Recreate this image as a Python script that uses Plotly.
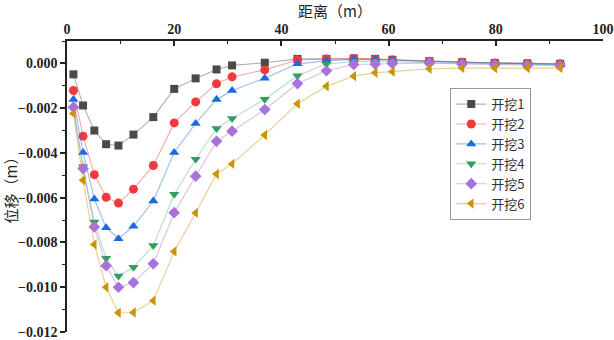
import plotly.graph_objects as go

distance = [1.2, 3.0, 5.1, 7.3, 9.6, 12.4, 16.1, 20.0, 24.0, 27.9, 30.8, 36.9, 43.0,
            48.4, 53.5, 57.5, 60.7, 67.6, 73.7, 79.8, 85.9, 92.0]

dig1 = [-0.00049, -0.00188, -0.00300, -0.00361, -0.00367, -0.00318, -0.00240, -0.00114,
        -0.00067, -0.00027, -0.00009, 0.00003, 0.00020,
        0.00020, 0.00022, 0.00020, 0.00016, 0.00010, 0.00005, 0.00002, 0.00000, -0.00002]
dig2 = [-0.00121, -0.00325, -0.00497, -0.00598, -0.00624, -0.00562, -0.00456, -0.00266,
        -0.00172, -0.00091, -0.00060, -0.00029, 0.00015,
        0.00020, 0.00022, 0.00019, 0.00015, 0.00010, 0.00005, 0.00002, 0.00000, -0.00002]
dig3 = [-0.00161, -0.00398, -0.00606, -0.00734, -0.00783, -0.00728, -0.00615, -0.00398,
        -0.00268, -0.00161, -0.00121, -0.00066, -0.00002,
        0.00012, 0.00018, 0.00018, 0.00015, 0.00008, 0.00004, 0.00000, -0.00003, -0.00005]
dig4 = [-0.00200, -0.00462, -0.00709, -0.00870, -0.00950, -0.00911, -0.00814, -0.00585,
        -0.00428, -0.00291, -0.00246, -0.00160, -0.00055,
        -0.00003, 0.00008, 0.00009, 0.00007, 0.00003, 0.00000, -0.00003, -0.00005, -0.00007]
dig5 = [-0.00196, -0.00470, -0.00731, -0.00904, -0.01000, -0.00979, -0.00895, -0.00667,
        -0.00504, -0.00348, -0.00303, -0.00206, -0.00090,
        -0.00033, -0.00005, -0.00003, 0.00000, 0.00002, -0.00003, -0.00006, -0.00008, -0.00010]
dig6 = [-0.00224, -0.00522, -0.00809, -0.01000, -0.01114, -0.01113, -0.01060, -0.00840,
        -0.00668, -0.00494, -0.00449, -0.00320, -0.00180,
        -0.00102, -0.00057, -0.00042, -0.00037, -0.00024, -0.00021, -0.00021, -0.00021, -0.00021]

names = ["开挖1", "开挖2", "开挖3", "开挖4", "开挖5", "开挖6"]
series = [dig1, dig2, dig3, dig4, dig5, dig6]

marker_colors = ["#4a4a4a", "#f03a3d", "#1a6be0", "#2f9f60", "#a772dc", "#cc9208"]
line_colors = ["rgba(80,80,80,0.45)", "rgba(240,58,61,0.45)", "rgba(26,107,224,0.45)",
               "rgba(47,159,96,0.35)", "rgba(167,114,220,0.45)", "rgba(204,146,8,0.45)"]
symbols = ["square", "circle", "triangle-up", "triangle-down", "diamond", "triangle-left"]

fig = go.Figure()
for name, ys, mc, lc, sym in zip(names, series, marker_colors, line_colors, symbols):
    fig.add_trace(go.Scatter(
        x=distance, y=ys, name=name, mode="lines+markers",
        line=dict(color=lc, width=1.1),
        marker=dict(symbol=sym, color=mc, size=9 if sym != "square" else 8,
                    line=dict(width=0)),
    ))

tickfont = dict(family="Liberation Serif", size=14, color="#222", weight="bold")

fig.update_layout(
    width=614, height=340,
    margin=dict(l=67, r=11, t=41, b=8),
    paper_bgcolor="white", plot_bgcolor="white",
    font=dict(family="Noto Sans CJK SC", color="#222"),
    legend=dict(
        x=0.715, y=0.838, xanchor="left", yanchor="top",
        bordercolor="#999", borderwidth=1, bgcolor="white",
        font=dict(family="Noto Sans CJK SC", size=13, color="#333"),
        tracegroupgap=0, itemwidth=30,
    ),
    xaxis=dict(
        side="top", range=[0, 100], dtick=20, tick0=0, automargin=False,
        showline=True, linecolor="#222", linewidth=1.5,
        ticks="inside", ticklen=5, tickwidth=1.5, tickcolor="#222",
        minor=dict(dtick=10, ticks="inside", ticklen=3, tickwidth=1, tickcolor="#222"),
        showgrid=False, zeroline=False, tickfont=tickfont,
        title=dict(text="距离（m）", font=dict(family="Noto Sans CJK SC", size=15, color="#222"),
                   standoff=10),
    ),
    yaxis=dict(
        range=[-0.012, 0.001], dtick=0.002, tick0=0, tickformat=".3f", automargin=False,
        showline=True, linecolor="#222", linewidth=1.5,
        ticks="outside", ticklen=5, tickwidth=1.5, tickcolor="#222",
        minor=dict(dtick=0.001, ticks="outside", ticklen=3, tickwidth=1, tickcolor="#222"),
        showgrid=False, zeroline=False, tickfont=tickfont,
        title=dict(text="位移（m）", font=dict(family="Noto Sans CJK SC", size=15, color="#222"),
                   standoff=0),
    ),
)

fig.write_html("out.html", config={"displayModeBar": False},
               post_script="document.body.style.margin='0';")
